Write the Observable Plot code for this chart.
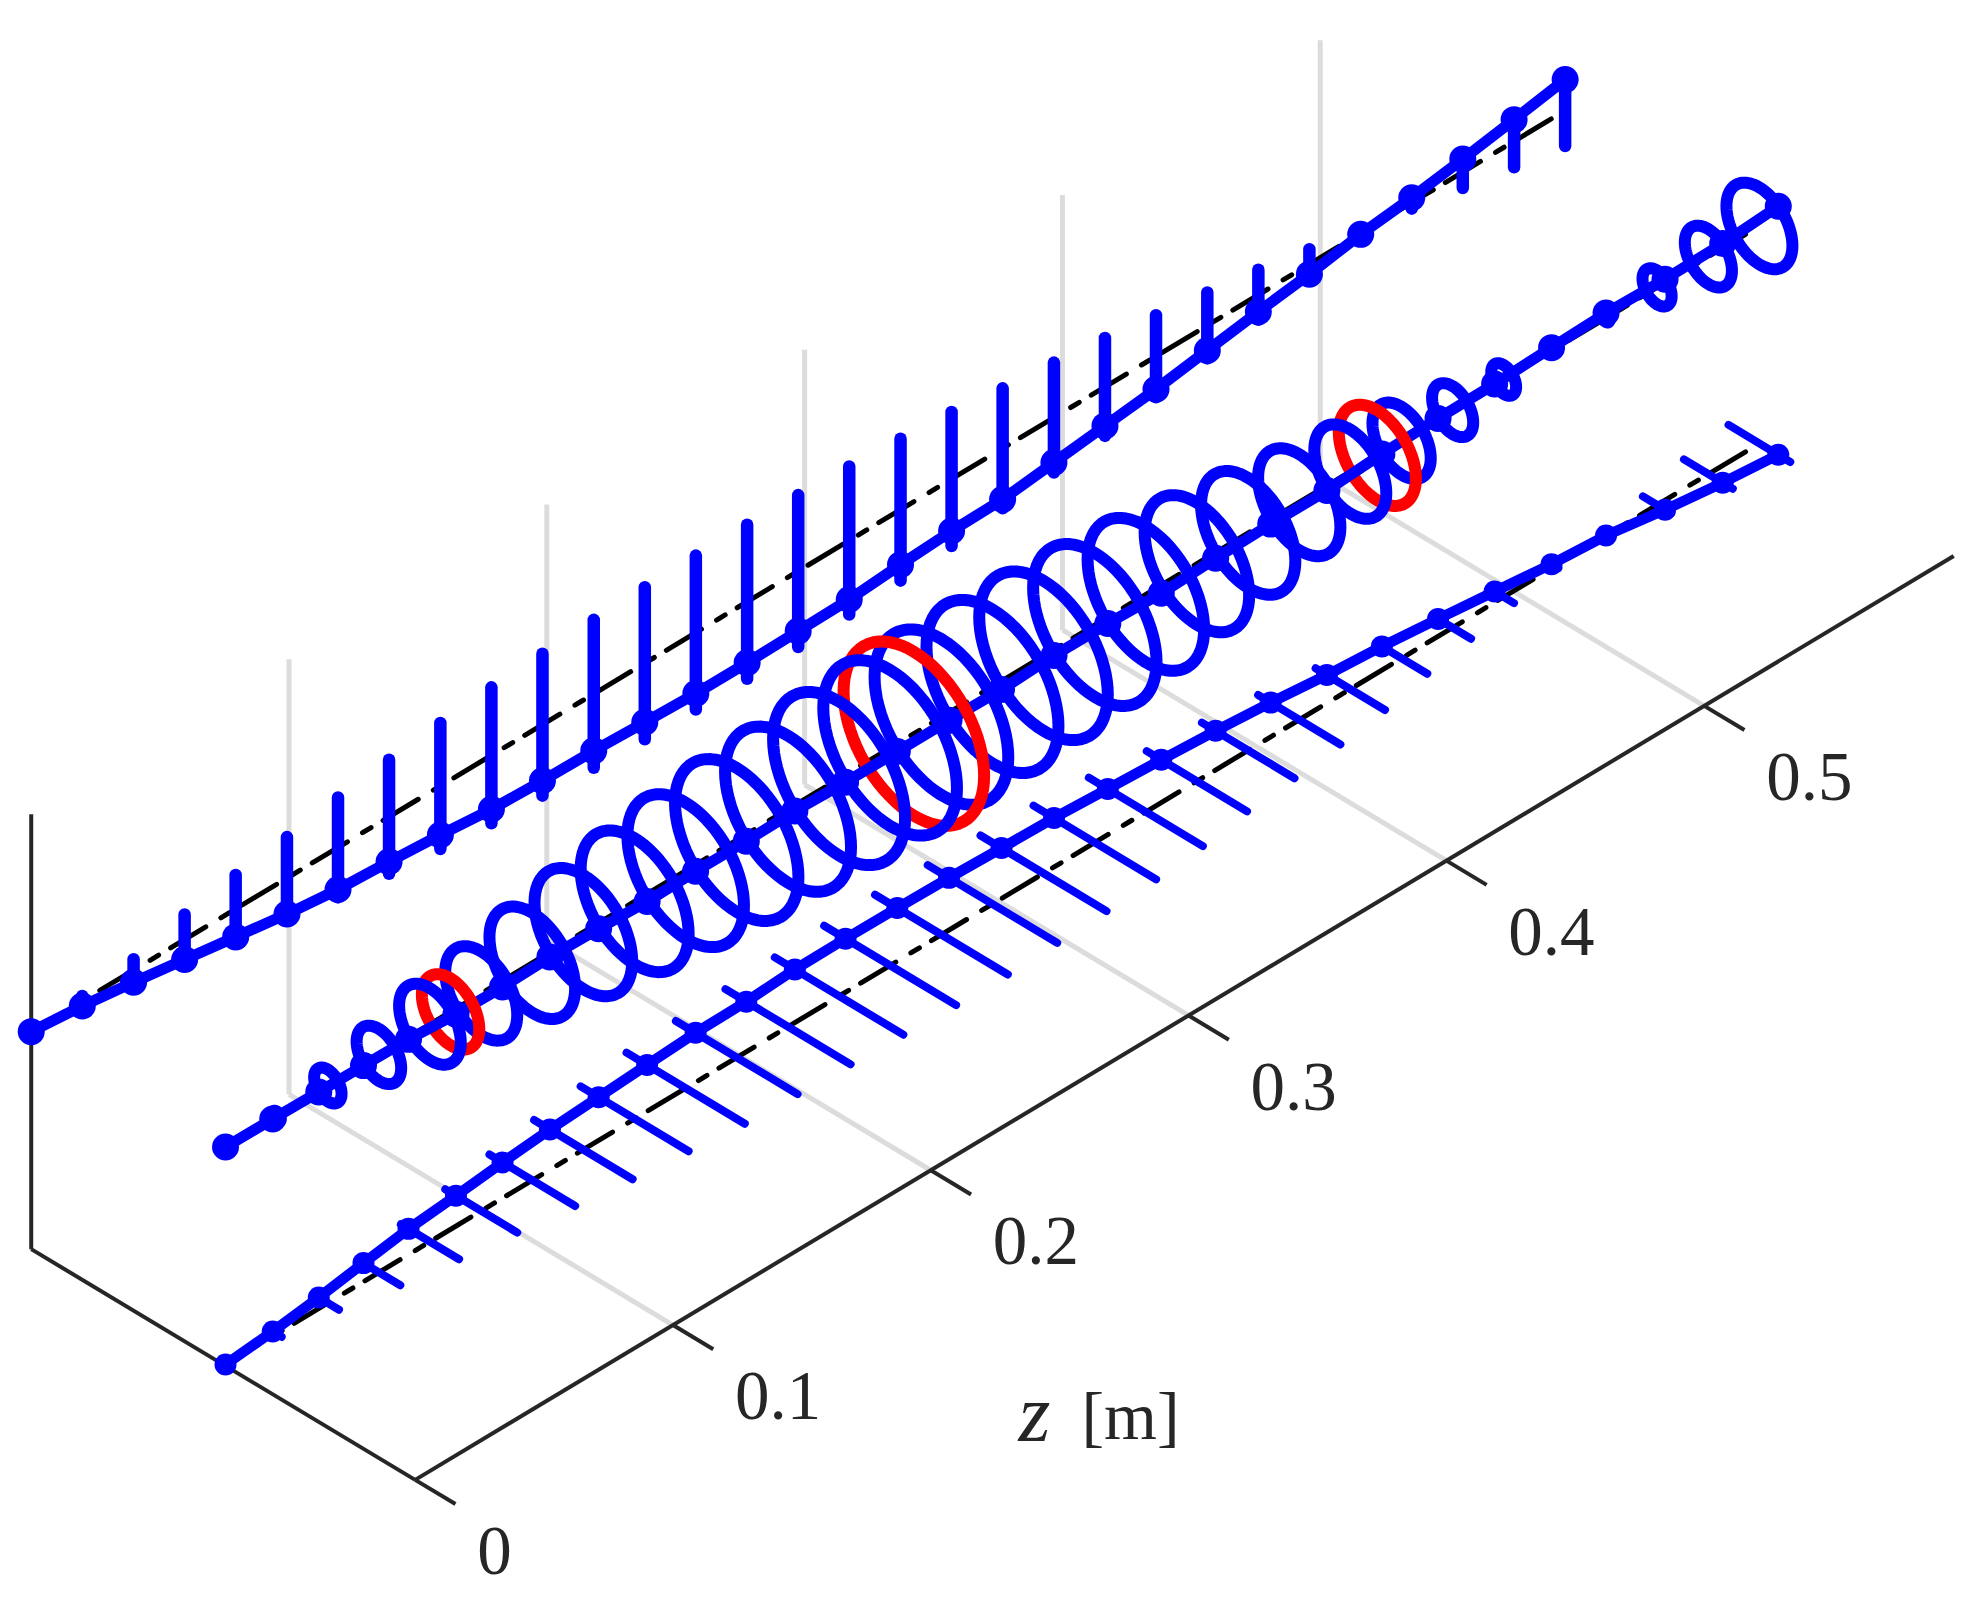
<!DOCTYPE html>
<html>
<head>
<meta charset="utf-8">
<style>html,body{margin:0;padding:0;background:#fff}svg{display:block}</style>
<script src="https://cdn.jsdelivr.net/npm/d3@7"></script>
<script src="https://cdn.jsdelivr.net/npm/@observablehq/plot@0.6"></script>
</head>
<body>
<div id="chart"></div>
<script>
// Values. z in metres, transverse values in millimetre-like units.
const stationZ = [0,0.0198,0.0397,0.0595,0.0793,0.0992,0.119,0.1388,0.1587,0.1785,0.1983,0.2182,0.238,0.2578,0.2777,0.2975,0.3173,0.3372,0.357,0.3768,0.3967,0.4165,0.4363,0.4562,0.476,0.4958,0.5157,0.5355,0.5553,0.5752,0.595];
const centroidX = [0,-0.45,-1.06,-1.8,-2.5,-2.95,-3.47,-3.9,-4.2,-4.5,-4.8,-4.87,-5.16,-5.2,-5.15,-5.07,-4.9,-4.76,-4.44,-4.16,-3.8,-3.33,-2.73,-2.3,-1.7,-1.06,-0.4,0,0.93,1.67,2.2];
const centroidY = [0,-0.5,-1.2,-2.0,-2.8,-3.6,-4.2,-4.5,-4.9,-5.4,-5.6,-5.7,-5.9,-6.1,-6.1,-6.0,-5.9,-5.5,-5.2,-5.1,-4.5,-3.9,-3.3,-2.5,-1.7,-1.0,-0.1,0.5,1.3,2.16,3.1];
const stemY = [0,0.5,1.1,2.5,3.4,4.1,5.0,5.7,6.3,6.8,7.1,7.4,7.6,7.7,7.7,7.6,7.4,7.1,6.7,6.0,5.5,4.9,4.1,3.3,2.5,1.5,0.4,0.6,1.6,2.6,3.55];
const stemX = [0,0.6,1.3,2.5,3.4,4.2,5.0,5.75,6.3,6.9,7.1,7.3,7.5,7.7,7.75,7.55,7.35,7.15,6.65,5.85,5.4,4.8,4.05,3.0,2.15,1.2,0.4,0.6,1.65,2.85,3.6];
const ringRadius = [0,0.5,1.6,2.6,3.6,4.2,5.0,5.7,6.3,6.8,7.2,7.35,7.7,7.8,7.8,7.7,7.5,7.2,6.8,6.1,5.5,4.8,4.2,3.4,2.4,1.45,0.3,0.4,1.7,2.75,3.85];
const redZ = [0.0873,0.267,0.4468];
const redRadius = [3.35,8.2,4.5];
const tickZ = [0,0.1,0.2,0.3,0.4,0.5];
const tickLabels = ["0","0.1","0.2","0.3","0.4","0.5"];
const zEnd = 0.5968, refEnd = 0.595, halfX = 22.4, halfY = 21.75, tickLength = 4.7;
const laneX = 0.27, laneY = 0.14; // centre of the beam box, slightly off the plot box centre

// Oblique view of the 3-D box
const px = d => 222.7 + d.z * 2578 + d.x * 8.57;
const py = d => 1146.5 - d.z * 1548 + d.x * 5.15 - d.y * 10;
const BLUE = "#0000ff", RED = "#ff0000", DARK = "#262626", GREY = "#dcdcdc";

const link = (rows, o) => Plot.link(rows, {
  x1: d => px(d[0]), y1: d => py(d[0]), x2: d => px(d[1]), y2: d => py(d[1]), ...o
});
const line = (rows, o) => Plot.line(rows, {x: px, y: py, curve: "linear", strokeLinejoin: "round", ...o});
const ringPts = (z, r) => d3.range(0, 73).map(k => ({
  z, x: laneX + r * Math.cos(k * Math.PI / 36), y: laneY + r * Math.sin(k * Math.PI / 36)
}));

const marks = [];
// wall / floor grid
marks.push(link(tickZ.slice(1).map(z => [{z, x: halfX, y: -halfY}, {z, x: -halfX, y: -halfY}]), {stroke: GREY, strokeWidth: 5}));
marks.push(link(tickZ.slice(1).map(z => [{z, x: -halfX, y: -halfY}, {z, x: -halfX, y: halfY}]), {stroke: GREY, strokeWidth: 5}));
// box edges and axis
marks.push(link([
  [{z: 0, x: -halfX, y: -halfY}, {z: 0, x: -halfX, y: halfY}],
  [{z: 0, x: -halfX, y: -halfY}, {z: 0, x: halfX, y: -halfY}],
  [{z: 0, x: halfX, y: -halfY}, {z: zEnd, x: halfX, y: -halfY}]
], {stroke: DARK, strokeWidth: 4}));
marks.push(link(tickZ.map(z => [{z, x: halfX, y: -halfY}, {z, x: halfX + tickLength, y: -halfY}]), {stroke: DARK, strokeWidth: 4}));

// reference lines
const dash = {stroke: "#000", strokeWidth: 5, strokeDasharray: "41 17.6 10 14", strokeDashoffset: 2.6};
const lanes = [{x: -halfX, y: 0}, {x: laneX, y: laneY}, {x: laneX, y: -halfY + laneY}];
lanes.forEach(l => marks.push(line([{z: 0, ...l}, {z: refEnd, ...l}], dash)));

// wall lane: y extent and centroid
marks.push(link(stationZ.map((z, i) => [{z, x: -halfX, y: -stemY[i]}, {z, x: -halfX, y: stemY[i]}]).filter((d, i) => stemY[i] > 0),
  {stroke: BLUE, strokeWidth: 12.5, strokeLinecap: "round"}));
const wall = stationZ.map((z, i) => ({z, x: -halfX, y: centroidY[i]}));
marks.push(line(wall, {stroke: BLUE, strokeWidth: 11}));
marks.push(Plot.dot(wall, {x: px, y: py, r: 13.5, fill: BLUE}));

// floor lane: x extent and centroid
marks.push(link(stationZ.map((z, i) => [{z, x: laneX - stemX[i], y: -halfY + laneY}, {z, x: laneX + stemX[i], y: -halfY + laneY}]).filter((d, i) => stemX[i] > 0),
  {stroke: BLUE, strokeWidth: 8, strokeLinecap: "round"}));
const floorLane = stationZ.map((z, i) => ({z, x: laneX + centroidX[i], y: -halfY + laneY}));
marks.push(line(floorLane, {stroke: BLUE, strokeWidth: 10.5}));
marks.push(Plot.dot(floorLane, {x: px, y: py, r: 11, fill: BLUE}));

// central lane, painted far to near
const mid = stationZ.map((z, i) => ({z, x: laneX + centroidX[i], y: laneY + centroidY[i]}));
for (let i = stationZ.length - 1; i >= 0; i--) {
  if (i < stationZ.length - 1) marks.push(line([mid[i], mid[i + 1]], {stroke: BLUE, strokeWidth: 11}));
  marks.push(Plot.dot([mid[i]], {x: px, y: py, r: 13.5, fill: BLUE}));
  if (ringRadius[i] > 0) marks.push(line(ringPts(stationZ[i], ringRadius[i]), {stroke: BLUE, strokeWidth: 12}));
  redZ.forEach((z, k) => {
    if (z < stationZ[i] && (i === 0 || z >= stationZ[i - 1])) {
      marks.push(line(ringPts(z, redRadius[k]), {stroke: RED, strokeWidth: 12}));
    }
  });
}

// labels
const labelFont = {fontFamily: "Liberation Serif", fill: DARK};
marks.push(Plot.text(tickZ, {
  x: z => px({z, x: halfX, y: -halfY}) + 62,
  y: z => py({z, x: halfX, y: -halfY}) + 72,
  text: (z, i) => tickLabels[i], textAnchor: "start", lineAnchor: "middle", fontSize: 69, ...labelFont
}));
marks.push(Plot.text(["z"], {x: () => 1034, y: () => 1414, text: d => d, fontSize: 82, fontStyle: "italic", ...labelFont}));
marks.push(Plot.text(["[m]"], {x: () => 1130, y: () => 1417, text: d => d, fontSize: 68, ...labelFont}));

const chart = Plot.plot({
  width: 1984, height: 1598,
  marginTop: 0, marginRight: 0, marginBottom: 0, marginLeft: 0,
  style: {background: "#fff"},
  x: {domain: [0, 1984], range: [0, 1984], axis: null},
  y: {domain: [0, 1598], range: [0, 1598], axis: null},
  marks
});
document.getElementById("chart").append(chart);
</script>
</body>
</html>
